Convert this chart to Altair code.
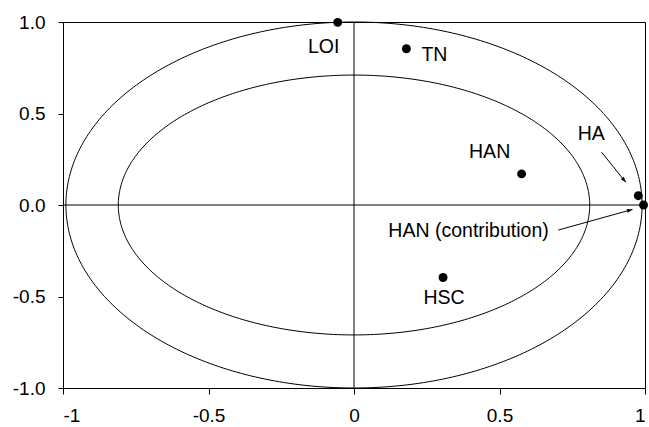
import math

import altair as alt
import numpy as np
import pandas as pd

# Variable loadings on the first two components
names = ["LOI", "TN", "HAN", "HSC", "HA", "HAN (contribution)"]
comp1 = [-0.056, 0.180, 0.576, 0.306, 0.977, 0.995]
comp2 = [0.998, 0.854, 0.170, -0.396, 0.051, 0.000]

# Label offsets from each point, in pixels
label_dx = [-14, 28, -32, 1, -47, -175]
label_dy = [25, 6, -22, 21, -62, 26]

# Arrows pointing at the two crowded points on the right edge
arrow_x1 = [0.851, 0.702]
arrow_y1 = [0.288, -0.137]
arrow_x2 = [0.934, 0.957]
arrow_y2 = [0.124, -0.024]

# Reference ellipses: horizontal and vertical radius
ellipse_rx = [0.99, 0.81]
ellipse_ry = [1.00, 0.71]

x_ticks = [-1, -0.5, 0, 0.5, 1]
y_ticks = [-1.0, -0.5, 0.0, 0.5, 1.0]

W, H = 582, 366
FONT = "Liberation Sans"

xs = alt.Scale(domain=[-1, 1], nice=False, zero=False)
ys = alt.Scale(domain=[-1, 1], nice=False, zero=False)

x_axis = alt.Axis(
    values=x_ticks,
    labelExpr="datum.value < 0 ? '-' + format(-datum.value, '~g') : format(datum.value, '~g')",
    title=None, grid=False, tickSize=6, labelPadding=12,
)
y_axis = alt.Axis(
    values=y_ticks,
    labelExpr="datum.value < 0 ? '-' + format(-datum.value, '.1f') : format(datum.value, '.1f')",
    title=None, grid=False, tickSize=5, labelPadding=13,
)

# Ellipse outlines traced as ordered lines
t = np.linspace(0, 2 * np.pi, 361)
ell_rows = []
for k, (rx, ry) in enumerate(zip(ellipse_rx, ellipse_ry)):
    for i, a in enumerate(t):
        ell_rows.append({"ring": k, "idx": i, "x": rx * np.cos(a), "y": ry * np.sin(a)})
ell_df = pd.DataFrame(ell_rows)

ellipses = alt.Chart(ell_df).mark_line(color="black", strokeWidth=1).encode(
    x=alt.X("x:Q", scale=xs, axis=x_axis),
    y=alt.Y("y:Q", scale=ys, axis=y_axis),
    detail="ring:N",
    order="idx:Q",
)

zero_df = pd.DataFrame({"v": [0.0]})
vline = alt.Chart(zero_df).mark_rule(color="black", strokeWidth=1).encode(
    x=alt.X("v:Q", scale=xs)
)
hline = alt.Chart(zero_df).mark_rule(color="black", strokeWidth=1).encode(
    y=alt.Y("v:Q", scale=ys)
)

pts_df = pd.DataFrame({"name": names, "x": comp1, "y": comp2})
points = alt.Chart(pts_df).mark_circle(color="black", size=80, opacity=1).encode(
    x=alt.X("x:Q", scale=xs),
    y=alt.Y("y:Q", scale=ys),
)

labels = []
for n, x, y, dx, dy in zip(names, comp1, comp2, label_dx, label_dy):
    d = pd.DataFrame({"name": [n], "x": [x], "y": [y]})
    labels.append(
        alt.Chart(d).mark_text(
            font=FONT, fontSize=19.5, color="black", align="center",
            baseline="middle", dx=dx, dy=dy,
        ).encode(x=alt.X("x:Q", scale=xs), y=alt.Y("y:Q", scale=ys), text="name:N")
    )

# Arrow shafts and heads
angles = []
for x1, y1, x2, y2 in zip(arrow_x1, arrow_y1, arrow_x2, arrow_y2):
    px = (x2 - x1) * W / 2
    py = -(y2 - y1) * H / 2
    angles.append(math.degrees(math.atan2(px, -py)) % 360)
arr_df = pd.DataFrame({
    "x1": arrow_x1, "y1": arrow_y1, "x2": arrow_x2, "y2": arrow_y2, "angle": angles,
})
shafts = alt.Chart(arr_df).mark_rule(color="black", strokeWidth=1).encode(
    x=alt.X("x1:Q", scale=xs), y=alt.Y("y1:Q", scale=ys), x2="x2:Q", y2="y2:Q",
)
heads = alt.Chart(arr_df).mark_point(
    shape="M0,0L-0.35,1L0.35,1Z", filled=True, color="black", size=120, opacity=1,
).encode(
    x=alt.X("x2:Q", scale=xs), y=alt.Y("y2:Q", scale=ys),
    angle=alt.Angle("angle:Q", scale=None),
)

chart = alt.layer(ellipses, vline, hline, shafts, heads, points, *labels).properties(
    width=W, height=H,
    autosize=alt.AutoSizeParams(type="none"),
    padding={"left": 63, "top": 22, "right": 4, "bottom": 39},
    background="white",
).configure_view(
    stroke="black", strokeWidth=1
).configure_axis(
    domainColor="black", tickColor="black", labelColor="black",
    labelFont=FONT, labelFontSize=19, domainWidth=1, tickWidth=1,
)

chart.save("out.html", embed_options={"renderer": "svg", "actions": False})
